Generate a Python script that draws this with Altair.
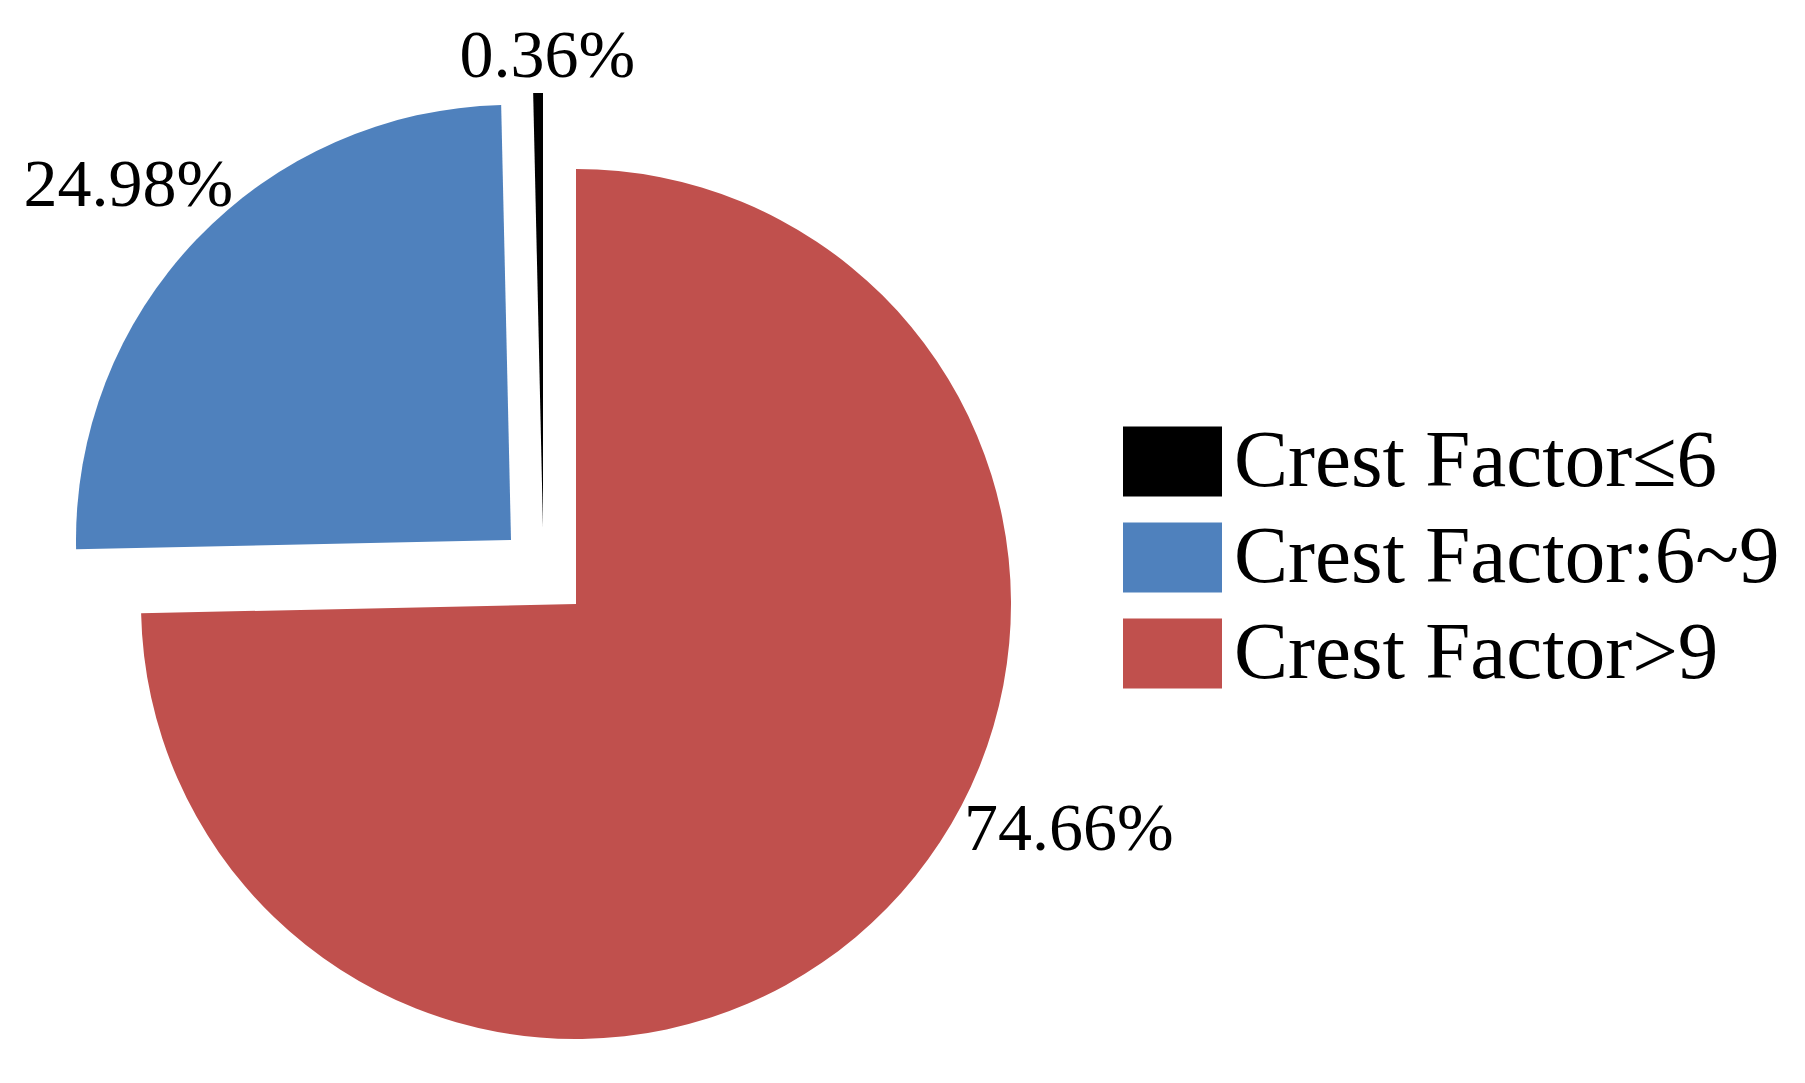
import math
import altair as alt
import pandas as pd

# ---- data (drawing order: clockwise from 12 o'clock) ----
categories = ["Crest Factor>9", "Crest Factor:6~9", "Crest Factor≤6"]
shares = [74.66, 24.98, 0.36]
label_texts = ["74.66%", "24.98%", "0.36%"]

# legend order and colours
legend_order = ["Crest Factor≤6", "Crest Factor:6~9", "Crest Factor>9"]
legend_colors = ["#000000", "#4F81BD", "#C0504D"]

# ---- style (layout only) ----
CX, CY, R = 568, 596, 435
explode_dx = {"Crest Factor>9": 0, "Crest Factor:6~9": -65, "Crest Factor≤6": -33}
explode_dy = {"Crest Factor>9": 0, "Crest Factor:6~9": -64, "Crest Factor≤6": -76}
label_radius = {"Crest Factor>9": 542, "Crest Factor:6~9": 521, "Crest Factor≤6": 471}
label_shift = {"Crest Factor>9": -5.5, "Crest Factor:6~9": -0.28, "Crest Factor≤6": 0.33}

df = pd.DataFrame({
    "category": categories,
    "share": shares,
    "label": label_texts,
    "order": list(range(len(categories))),
    "dx": [explode_dx[c] for c in categories],
    "dy": [explode_dy[c] for c in categories],
    "lr": [label_radius[c] for c in categories],
    "ls": [label_shift[c] for c in categories],
})

FONT = "Liberation Serif"

base = alt.Chart(df).transform_window(
    cum="sum(share)", sort=[alt.SortField("order")], frame=[None, 0]
).transform_calculate(
    start="datum.cum - datum.share",
    end="datum.cum",
).transform_calculate(
    mid="(datum.start + datum.end) / 2 + datum.ls",
    cx=f"{CX} + datum.dx",
    cy=f"{CY} + datum.dy",
).transform_calculate(
    lx="datum.cx + datum.lr * sin(datum.mid / 100 * 2 * PI)",
    ly="datum.cy - datum.lr * cos(datum.mid / 100 * 2 * PI)",
)

rect_path = "M-1,-0.707L1,-0.707L1,0.707L-1,0.707Z"

arcs = base.mark_arc(radius=R, stroke=None).encode(
    theta=alt.Theta("start:Q", scale=alt.Scale(domain=[0, 100], range=[0, 2 * math.pi])),
    theta2="end:Q",
    x=alt.X("cx:Q", scale=None),
    y=alt.Y("cy:Q", scale=None),
    color=alt.Color(
        "category:N",
        scale=alt.Scale(domain=legend_order, range=legend_colors),
        legend=alt.Legend(
            title=None,
            orient="none",
            legendX=1115,
            legendY=404,
            padding=0,
            symbolType=rect_path,
            symbolSize=9801,
            symbolStrokeWidth=0,
            symbolOpacity=1,
            labelFont=FONT,
            labelFontSize=81,
            labelColor="#000000",
            labelOffset=12,
            labelLimit=1000,
            rowPadding=6,
        ),
    ),
)

labels = base.mark_text(
    font=FONT, fontSize=68, color="#000000", align="center", baseline="middle"
).encode(
    x=alt.X("lx:Q", scale=None),
    y=alt.Y("ly:Q", scale=None),
    text="label:N",
)

chart = alt.layer(arcs, labels).properties(
    width=1789, height=1067, padding=0, autosize="none"
).configure_view(stroke=None)

chart.save("out.html", embed_options={"renderer": "svg", "actions": False})
